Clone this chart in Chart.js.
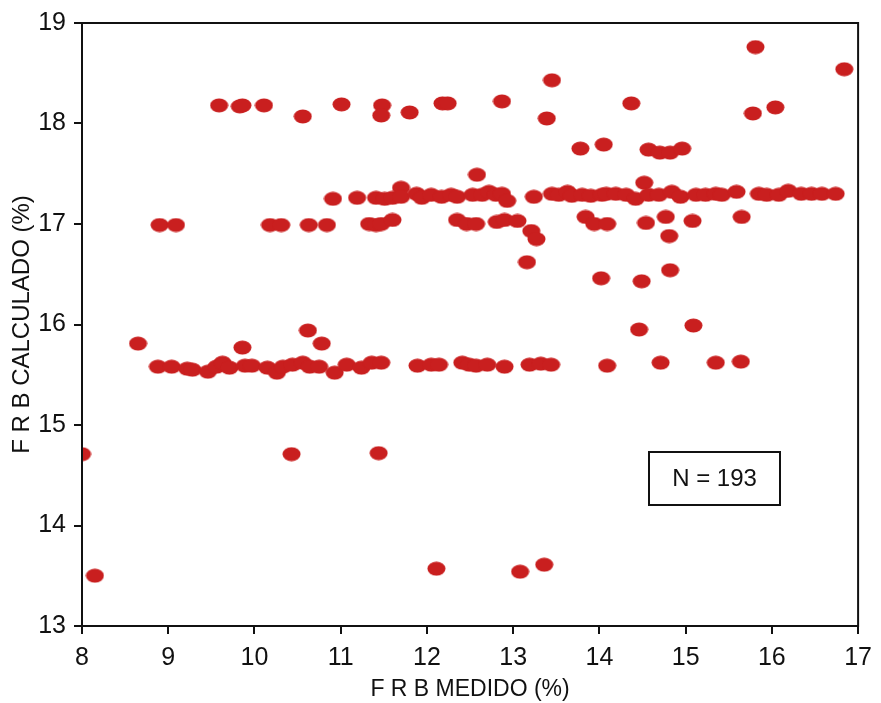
<!DOCTYPE html>
<html>
<head>
<meta charset="utf-8">
<script src="https://cdn.jsdelivr.net/npm/chart.js@4/dist/chart.umd.min.js"></script>
<style>
html,body{margin:0;padding:0;background:#fff;}
#wrap{width:881px;height:703px;}
</style>
</head>
<body>
<div id="wrap"><canvas id="c" width="881" height="703"></canvas></div>
<script>
// FRB medido (%) values
const medido = [
  9.59, 9.83, 9.86, 10.11, 10.56, 11.01, 11.48, 11.47, 11.80, 12.18, 12.24, 12.87, 13.39, 13.45,
  13.78, 14.05, 14.37, 15.81, 16.84, 15.78, 16.04, 14.57, 14.70, 14.82, 14.96, 14.52, 12.58,
  8.90, 9.09, 10.18, 10.31, 10.63, 10.84, 11.33, 11.41, 11.47, 11.60,
  10.91, 11.19, 11.41, 11.51, 11.60, 11.70, 11.70, 11.88, 11.94, 12.05, 12.17, 12.28, 12.35,
  12.53, 12.64, 12.72, 12.80, 12.87, 12.93, 13.24, 13.45, 13.53, 13.63, 13.68, 13.80, 13.90,
  14.03, 14.08, 14.19, 14.31, 14.42, 14.57, 14.69, 14.84, 14.94, 15.12, 15.23, 15.35, 15.42,
  15.59, 15.85, 15.94, 16.08, 16.19, 16.34, 16.46, 16.58, 16.74,
  12.35, 12.46, 12.57, 12.81, 12.90, 13.05, 13.21, 13.27, 13.16, 13.84, 13.94, 14.09, 14.54,
  14.77, 14.81, 15.08, 15.65, 14.82, 14.02, 14.49,
  8.65, 8.88, 9.04, 9.22, 9.28, 9.46, 9.56, 9.63, 9.71, 9.86, 9.89, 9.97, 10.15, 10.26, 10.33,
  10.44, 10.56, 10.62, 10.64, 10.75, 10.78, 10.93, 11.07, 11.24, 11.36, 11.47, 11.89, 12.05,
  12.14, 12.41, 12.49, 12.57, 12.70, 12.90, 13.19, 13.32, 13.44, 14.09, 14.46, 14.71, 15.09,
  15.35, 15.64,
  8.00, 10.43, 11.44, 8.15, 12.11, 13.08, 13.36
];
// FRB calculado (%) values
const calculado = [
  18.18, 18.17, 18.18, 18.18, 18.07, 18.19, 18.18, 18.08, 18.11, 18.20, 18.20, 18.22, 18.05, 18.43,
  17.75, 17.79, 18.20, 18.76, 18.54, 18.10, 18.16, 17.74, 17.71, 17.71, 17.75, 17.41, 17.49,
  16.99, 16.99, 16.99, 16.99, 16.99, 16.99, 17.00, 16.99, 17.00, 17.04,
  17.25, 17.26, 17.26, 17.25, 17.26, 17.36, 17.27, 17.30, 17.26, 17.29, 17.27, 17.29, 17.27,
  17.29, 17.29, 17.32, 17.29, 17.30, 17.23, 17.27, 17.30, 17.29, 17.32, 17.28, 17.29, 17.28,
  17.29, 17.30, 17.30, 17.29, 17.25, 17.29, 17.29, 17.32, 17.27, 17.29, 17.29, 17.30, 17.29,
  17.32, 17.30, 17.29, 17.29, 17.33, 17.30, 17.30, 17.30, 17.30,
  17.04, 17.00, 17.00, 17.02, 17.04, 17.03, 16.93, 16.85, 16.62, 17.07, 17.00, 17.00, 17.01,
  17.07, 16.88, 17.03, 17.07, 16.54, 16.46, 16.43,
  15.81, 15.58, 15.58, 15.56, 15.55, 15.53, 15.58, 15.62, 15.57, 15.77, 15.59, 15.59, 15.57, 15.52, 15.58,
  15.60, 15.62, 15.94, 15.58, 15.58, 15.81, 15.52, 15.60, 15.57, 15.62, 15.62, 15.59, 15.60,
  15.60, 15.62, 15.60, 15.59, 15.60, 15.58, 15.60, 15.61, 15.60, 15.59, 15.95, 15.62, 15.99,
  15.62, 15.63,
  14.71, 14.71, 14.72, 13.50, 13.57, 13.54, 13.61
];
const xTicks = [8, 9, 10, 11, 12, 13, 14, 15, 16, 17];
const yTicks = [13, 14, 15, 16, 17, 18, 19];
const xTitle = 'F R B MEDIDO (%)';
const yTitle = 'F R B CALCULADO (%)';
const nLabel = 'N = 193';

const points = medido.map((x, i) => ({x: x, y: calculado[i]}));

// elliptical marker
const mk = document.createElement('canvas');
mk.width = 19; mk.height = 15;
(function(){
  const g = mk.getContext('2d');
  g.fillStyle = '#c91f1f';
  g.beginPath();
  g.ellipse(9.5, 7.5, 9, 7, 0, 0, Math.PI * 2);
  g.fill();
})();

const FONT = "'Liberation Sans', Arial, sans-serif";

const framePlugin = {
  id: 'frame',
  afterDraw(chart) {
    const {ctx, chartArea: a} = chart;
    ctx.save();
    ctx.strokeStyle = '#111';
    ctx.lineWidth = 2;
    ctx.strokeRect(a.left, a.top, a.right - a.left, a.bottom - a.top);
    // N box
    const bx = 649, by = 452, bw = 131, bh = 53;
    ctx.fillStyle = '#fff';
    ctx.fillRect(bx, by, bw, bh);
    ctx.strokeRect(bx, by, bw, bh);
    ctx.fillStyle = '#111';
    ctx.font = "24px " + FONT;
    ctx.textAlign = 'center';
    ctx.textBaseline = 'middle';
    ctx.fillText(nLabel, bx + bw / 2, by + bh / 2 + 1);
    ctx.restore();
  }
};

new Chart(document.getElementById('c'), {
  type: 'scatter',
  data: {
    datasets: [{
      data: points,
      pointStyle: mk,
      pointRadius: 8,
      pointHoverRadius: 8,
      backgroundColor: '#c91f1f',
      borderColor: '#c91f1f'
    }]
  },
  options: {
    responsive: false,
    animation: false,
    events: [],
    layout: {padding: {left: 0, top: 18, right: 21, bottom: 0}},
    plugins: {legend: {display: false}, tooltip: {enabled: false}},
    scales: {
      x: {
        type: 'linear',
        min: 8, max: 17,
        afterBuildTicks: s => { s.ticks = xTicks.map(v => ({value: v})); },
        afterFit: s => { s.height = 77; },
        grid: {display: true, drawOnChartArea: false, drawTicks: true, tickLength: 8, color: '#111', lineWidth: 2},
        border: {display: true, color: '#111', width: 2},
        ticks: {color: '#111', padding: 9, font: {family: FONT, size: 25}},
        title: {display: true, text: xTitle, color: '#111', font: {family: FONT, size: 23}, padding: {top: 0, bottom: 0}}
      },
      y: {
        type: 'linear',
        min: 13, max: 19,
        afterBuildTicks: s => { s.ticks = yTicks.map(v => ({value: v})); },
        afterFit: s => { s.width = 82; },
        grid: {display: true, drawOnChartArea: false, drawTicks: true, tickLength: 8, color: '#111', lineWidth: 2},
        border: {display: true, color: '#111', width: 2},
        ticks: {color: '#111', padding: 8, font: {family: FONT, size: 25}},
        title: {display: true, text: yTitle, color: '#111', font: {family: FONT, size: 24}, padding: {top: 8, bottom: 0}}
      }
    }
  },
  plugins: [framePlugin]
});
</script>
</body>
</html>
